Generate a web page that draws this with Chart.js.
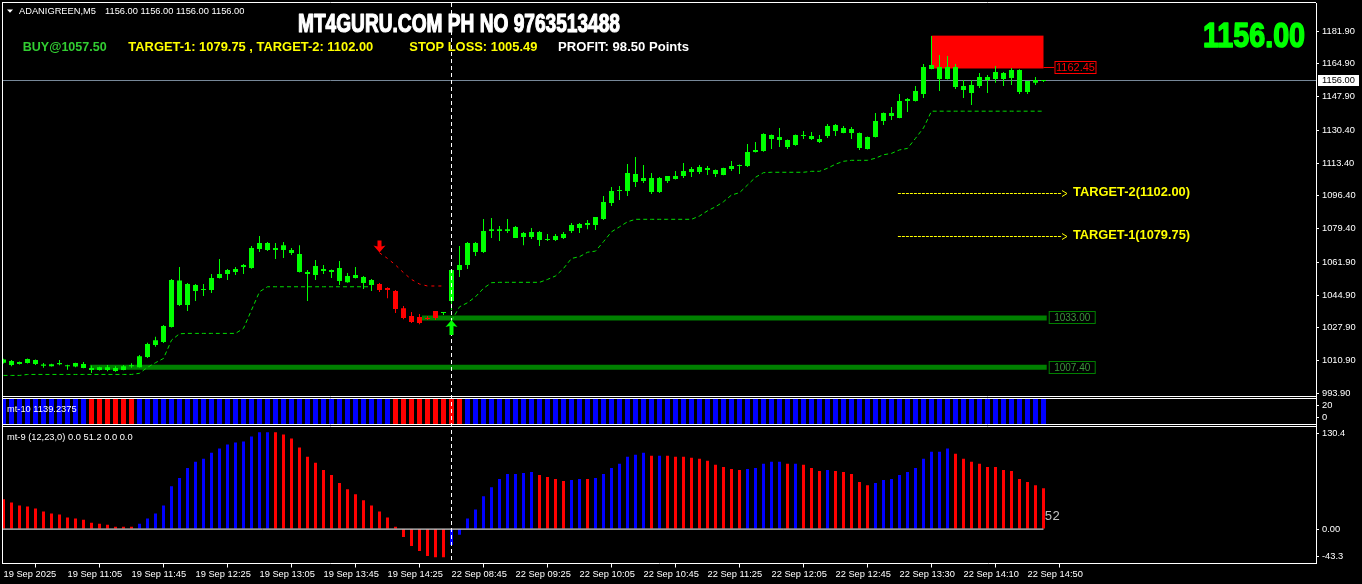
<!DOCTYPE html>
<html><head><meta charset="utf-8">
<script src="https://cdn.jsdelivr.net/npm/chart.js@4.4.1/dist/chart.umd.min.js"></script>
<style>html,body{margin:0;padding:0;background:#000;overflow:hidden}canvas{display:block}</style>
</head><body>
<canvas id="c" width="1362" height="584"></canvas>
<script>
// ---------------- DATA ----------------
const opens = [
1009.8,1010.7,1009.1,1009.6,1011.2,1008.9,1008.0,1009.0,1008.5,1007.8,
1009.1,1007.0,1006.0,1007.5,1005.5,1006.0,1008.0,1007.5,1012.7,1019.0,
1020.5,1028.3,1052.5,1039.7,1047.0,1047.5,1047.5,1053.7,1055.8,1056.8,
1059.4,1058.9,1068.8,1071.9,1068.3,1068.3,1068.3,1066.2,1056.8,1055.3,
1058.4,1057.9,1058.9,1051.6,1053.7,1054.2,1052.7,1050.6,1047.5,1047.0,
1038.1,1034.0,1033.5,1032.5,1033.0,1035.6,1041.8,1057.9,1060.5,1071.9,
1067.2,1078.1,1079.1,1078.1,1080.2,1077.1,1075.0,1077.6,1073.4,1073.4,
1074.5,1078.1,1079.7,1081.2,1081.2,1084.3,1092.6,1098.9,1098.9,1107.7,
1104.1,1105.6,1098.4,1104.1,1105.1,1106.7,1108.7,1108.7,1109.8,1109.8,
1107.2,1110.3,1111.8,1111.8,1119.1,1119.6,1127.9,1125.3,1125.3,1122.7,
1127.4,1127.4,1125.9,1127.4,1130.0,1131.6,1129.0,1129.0,1120.7,1126.9,
1135.2,1139.4,1136.8,1145.6,1145.6,1149.2,1162.2,1163.2,1157.0,1163.2,
1153.4,1149.7,1153.4,1158.0,1157.0,1160.1,1157.5,1161.7,1150.3,1155.0,
1156.0];
const highs = [
1011.8,1011.2,1010.4,1012.0,1011.4,1009.6,1009.3,1011.2,1008.7,1009.8,
1010.1,1008.3,1007.7,1008.6,1008.0,1008.6,1009.5,1013.8,1020.2,1023.3,
1029.3,1053.2,1059.4,1051.1,1050.6,1050.6,1055.8,1063.6,1058.4,1059.4,
1061.0,1070.3,1075.5,1072.4,1071.9,1072.4,1069.3,1070.8,1057.9,1063.1,
1060.5,1058.2,1062.5,1056.3,1059.4,1054.8,1053.2,1051.1,1049.0,1047.5,
1039.2,1036.1,1035.0,1034.0,1036.6,1035.8,1058.4,1070.3,1072.4,1072.4,
1084.3,1084.9,1080.7,1084.3,1080.7,1077.6,1079.7,1078.1,1076.6,1076.6,
1077.6,1082.3,1082.3,1083.8,1085.4,1096.3,1100.9,1101.5,1112.9,1116.5,
1112.4,1108.2,1106.1,1106.7,1109.3,1113.4,1111.3,1112.4,1111.8,1110.0,
1111.0,1114.4,1112.6,1123.3,1124.3,1128.8,1128.2,1131.6,1125.6,1128.2,
1130.0,1129.5,1127.9,1133.6,1133.6,1132.6,1132.1,1129.3,1127.2,1139.4,
1139.6,1142.5,1149.2,1147.1,1153.4,1164.8,1179.3,1169.5,1168.9,1164.8,
1156.5,1156.5,1160.1,1159.1,1163.7,1160.6,1162.7,1162.0,1156.0,1158.0,
1156.5];
const lows = [
1009.4,1008.0,1008.8,1009.4,1008.6,1007.2,1007.8,1008.5,1006.1,1007.4,
1006.9,1004.4,1005.7,1005.4,1005.1,1005.9,1007.2,1007.3,1012.2,1018.1,
1020.0,1028.0,1039.2,1036.6,1041.8,1044.4,1045.9,1053.5,1052.7,1055.3,
1055.8,1058.6,1067.2,1067.8,1063.6,1064.1,1065.7,1056.6,1041.8,1052.7,
1055.8,1053.7,1050.1,1051.3,1053.5,1048.0,1047.0,1046.5,1043.3,1035.6,
1032.4,1030.4,1029.8,1031.9,1031.9,1034.5,1037.1,1054.2,1058.4,1065.1,
1066.7,1074.5,1072.9,1077.1,1074.5,1070.8,1074.0,1070.3,1072.9,1072.9,
1074.0,1077.1,1077.1,1079.1,1078.6,1083.8,1091.1,1094.2,1096.3,1100.9,
1103.0,1097.3,1097.8,1103.0,1104.9,1105.6,1106.1,1107.7,1107.2,1106.1,
1107.0,1109.3,1107.7,1111.3,1118.9,1119.3,1120.7,1121.7,1120.7,1122.4,
1125.9,1125.3,1123.8,1126.4,1127.4,1128.8,1125.9,1120.2,1120.4,1126.6,
1133.1,1135.7,1136.6,1139.9,1145.3,1147.1,1162.0,1150.8,1156.8,1151.8,
1147.1,1143.5,1152.3,1149.7,1155.0,1153.4,1153.9,1149.2,1149.2,1153.9,
1155.4];
const closes = [
1011.5,1008.6,1010.1,1011.7,1009.1,1008.2,1009.0,1009.6,1008.0,1009.6,
1007.0,1006.0,1007.5,1006.0,1007.0,1008.0,1008.4,1013.2,1019.5,1021.5,
1028.8,1052.7,1039.7,1050.6,1050.1,1047.7,1053.7,1055.8,1057.9,1058.4,
1060.5,1069.3,1071.9,1068.3,1069.3,1070.8,1066.7,1056.8,1055.8,1060.0,
1057.4,1056.8,1052.2,1054.8,1055.3,1051.1,1050.1,1047.5,1048.5,1037.6,
1033.0,1030.9,1030.4,1033.0,1036.6,1035.6,1057.9,1060.5,1071.9,1067.2,
1078.1,1079.1,1078.1,1079.1,1074.5,1075.0,1077.6,1073.4,1074.0,1075.5,
1076.6,1081.2,1081.7,1082.3,1085.4,1093.2,1098.9,1098.9,1108.2,1103.5,
1105.6,1098.4,1105.6,1106.7,1106.7,1109.3,1110.3,1111.3,1110.8,1107.7,
1110.8,1111.8,1112.4,1119.1,1120.2,1128.5,1125.9,1126.9,1121.7,1127.9,
1127.4,1125.9,1124.3,1132.6,1133.1,1129.0,1131.0,1121.2,1126.9,1135.2,
1139.4,1137.8,1145.6,1146.6,1150.8,1163.2,1164.3,1157.0,1163.2,1152.8,
1151.3,1153.9,1158.0,1156.5,1160.6,1157.0,1161.7,1150.3,1156.0,1156.5,
1156.0];
// candle colour: G = up-trend (lime), R = down-trend (red)
const candleCode = "GGGGGGGGGG GGGGGGGGGG GGGGGGGGGG GGGGGGGGGG GGGGGGGRRR RRRRRGGGGG GGGGGGGGGG GGGGGGGGGG GGGGGGGGGG GGGGGGGGGG GGGGGGGGGG GGGGGGGGGG GGGGGGGGGG G";
// mt-10 strip signal: B = blue, R = red
const stripCode  = "BBBBBBBBBB BRRRRRRBBB BBBBBBBBBB BBBBBBBBBB BBBBBBBBBR RRRRRRRRBB BBBBBBBBBB BBBBBBBBBB BBBBBBBBBB BBBBBBBBBB BBBBBBBBBB BBBBBBBBBB BBBBBBBBBB B";
// mt-9 histogram
const histValues = [
37.5,33.6,29.8,28.5,26.0,22.1,19.6,18.3,14.5,13.2,
11.9,8.1,6.8,5.5,3.0,3.0,3.0,6.8,13.2,19.6,
29.8,54.0,64.3,77.0,84.7,88.5,96.2,101.3,106.4,109.0,
110.3,116.6,121.8,121.8,121.8,119.2,114.1,102.6,91.1,83.4,
74.5,68.1,57.9,50.2,43.8,36.2,29.8,22.1,14.5,3.0,
-9.8,-21.3,-27.7,-34.0,-35.3,-35.3,-20.0,-7.2,13.2,24.7,
41.3,52.8,63.0,69.4,69.4,70.7,71.9,68.1,65.6,63.0,
60.5,61.7,63.0,63.0,64.3,69.4,77.0,82.2,91.1,93.7,
96.2,92.4,92.4,92.4,91.1,91.1,89.8,88.5,85.9,80.9,
78.3,75.8,74.5,75.8,77.0,82.2,84.7,84.7,82.2,82.2,
80.9,77.0,73.2,74.5,73.2,71.9,69.4,59.2,55.3,57.9,
61.7,63.0,68.1,71.9,77.0,88.5,97.5,97.5,101.3,94.9,
88.5,84.7,82.2,78.3,78.3,74.5,73.2,63.0,59.2,55.3,
51.5];
const histCode = "RRRRRRRRRR RRRRRRRBBB BBBBBBBBBB BBBBRRRRRR RRRRRRRRRR RRRRRRBBBB BBBBBBBRRR RBBRBBBBBB BRBRRRRRRR RRRBBBBBRB RRRBRRRRRB BBBBBBBBBR RRRRRRRRRR R";
// trailing stop lines
const supportTrail = [
1003.2,1003.2,1003.2,1003.7,1003.7,1003.7,1003.7,1003.7,1003.7,1003.7,
1003.7,1003.7,1003.7,1003.7,1003.7,1003.7,1003.7,1004.3,1007.4,1009.8,
1012.0,1021.5,1024.8,1025.0,1025.0,1025.0,1025.0,1025.0,1025.0,1025.0,
1027.6,1037.1,1046.6,1049.2,1049.2,1049.2,1049.2,1049.2,1049.2,1049.2,
1049.2,1049.2,1049.2,1049.2,1049.2,1049.2,1049.2,null,null,null,
null,null,null,null,null,null,1031.5,1038.8,1040.9,1044.0,
1048.4,1051.3,1051.5,1051.5,1051.5,1051.5,1051.5,1051.5,1053.0,1054.8,
1058.7,1063.9,1064.8,1067.1,1067.7,1072.6,1077.7,1080.3,1082.9,1084.2,
1084.2,1084.2,1084.2,1084.2,1084.2,1084.2,1084.2,1085.9,1088.6,1090.7,
1093.3,1096.8,1098.0,1102.0,1106.0,1108.4,1108.6,1108.6,1108.6,1108.6,
1108.6,1109.1,1109.1,1110.7,1112.8,1114.3,1114.8,1114.8,1114.8,1115.9,
1117.7,1118.4,1120.2,1121.0,1126.2,1131.6,1140.3,1140.3,1140.3,1140.3,
1140.3,1140.3,1140.3,1140.3,1140.3,1140.3,1140.3,1140.3,1140.3,1140.3,
1140.3];
const resistTrailStart = 47;
const resistTrail = [1066.8,1063.9,1060.5,1056.5,1053.0,1050.6,1049.6,1049.6,1049.6];
// signals / objects
const sellArrow = {bar: 47, price: 1067.0};
const buyArrow  = {bar: 56, price: 1031.9};
const separatorBar = 56;
const bidPrice = 1156.00;
const zoneBars = [116, 130];
const zonePrices = [1179.5, 1162.45];
const levelPrices = [1033.00, 1007.40];
const levelStartBars = [52.3, 10.8];
const levelEndBar = 130.4;
const targetPrices = [1102.00, 1079.75];
const targetLabels = ['TARGET-2(1102.00)', 'TARGET-1(1079.75)'];
const targetBar = 111.8;
// axes
const priceTicks = [1181.9,1164.9,1147.9,1130.4,1113.4,1096.4,1079.4,1061.9,1044.9,1027.9,1010.9,993.9];
const stripTicks = [20, 0];
const histTickValues = [120.6, 0, -34.7];
const histTickLabels = ['130.4', '0.00', '-43.3'];
const xTickBars = [0,8,16,24,32,40,48,56,64,72,80,88,96,104,112,120,128];
const xTickLabels = ['19 Sep 2025','19 Sep 11:05','19 Sep 11:45','19 Sep 12:25','19 Sep 13:05','19 Sep 13:45','19 Sep 14:25',
  '22 Sep 08:45','22 Sep 09:25','22 Sep 10:05','22 Sep 10:45','22 Sep 11:25','22 Sep 12:05','22 Sep 12:45','22 Sep 13:30','22 Sep 14:10','22 Sep 14:50'];
// texts
const headerSymbol = 'ADANIGREEN,M5';
const headerOHLC = '1156.00 1156.00 1156.00 1156.00';
const titleText = 'MT4GURU.COM PH NO 9763513488';
const bigPriceText = '1156.00';
const infoTexts = ['BUY@1057.50', 'TARGET-1: 1079.75 , TARGET-2: 1102.00', 'STOP LOSS: 1005.49', 'PROFIT: 98.50 Points'];
const stripTitle = 'mt-10 1139.2375';
const histTitle = 'mt-9 (12,23,0) 0.0 51.2 0.0 0.0';
const histLastText = '52';

// ---------------- STYLE ----------------
const LIME = '#00ff00', RED = '#ff0000', BLUE = '#0000ff', WHITE = '#ffffff', YELLOW = '#ffff00';
const FAM = "'Liberation Sans', Arial, sans-serif";
const SMALL = "9.3px " + FAM;
const codes = s => s.replace(/ /g, '').split('');
const candleColors = codes(candleCode).map(c => c === 'R' ? RED : LIME);
const stripColors = codes(stripCode).map(c => c === 'R' ? RED : BLUE);
const histColors = codes(histCode).map(c => c === 'R' ? RED : BLUE);
const STRIP_MIN = -13, STRIP_MAX = 33.7;
const X_MIN = -0.1875, X_MAX = 164.0625;

Chart.defaults.font.family = FAM;
Chart.defaults.font.size = 9.3;

function drawText(ctx, s, x, y, font, color, width, stroke) {
  ctx.save();
  ctx.font = font; ctx.fillStyle = color; ctx.textAlign = 'left'; ctx.textBaseline = 'alphabetic';
  ctx.translate(x, y);
  if (width) { const m = ctx.measureText(s).width; ctx.scale(width / m, 1); }
  ctx.fillText(s, 0, 0);
  if (stroke) { ctx.strokeStyle = color; ctx.lineWidth = stroke; ctx.lineJoin = 'round'; ctx.strokeText(s, 0, 0); }
  ctx.restore();
}
function hline(ctx, x0, x1, y) { ctx.beginPath(); ctx.moveTo(x0, y); ctx.lineTo(x1, y); ctx.stroke(); }
function arrow(ctx, cx, ty, dir, len, color) {
  const d = dir; ctx.save(); ctx.fillStyle = color; ctx.beginPath();
  ctx.moveTo(cx, ty); ctx.lineTo(cx + 6, ty + 7 * d); ctx.lineTo(cx + 2, ty + 6 * d); ctx.lineTo(cx + 2, ty + len * d);
  ctx.lineTo(cx - 2, ty + len * d); ctx.lineTo(cx - 2, ty + 6 * d); ctx.lineTo(cx - 6, ty + 7 * d); ctx.closePath(); ctx.fill(); ctx.restore();
}
function labelBox(ctx, x, yc, w, h, text, border, color, size) {
  ctx.save(); ctx.fillStyle = '#000'; ctx.fillRect(x, yc - h / 2, w, h);
  ctx.strokeStyle = border; ctx.lineWidth = 1; ctx.strokeRect(x + 0.5, Math.round(yc - h / 2) + 0.5, w - 1, h - 1);
  ctx.font = size + 'px ' + FAM; ctx.fillStyle = color; ctx.textAlign = 'center'; ctx.textBaseline = 'middle';
  ctx.fillText(text, x + w / 2, Math.round(yc - h / 2) + h / 2 + 0.5); ctx.restore();
}

const mt4 = {
  id: 'mt4',
  beforeDraw(c) { const ctx = c.ctx; ctx.save(); ctx.fillStyle = '#000'; ctx.fillRect(0, 0, c.width, c.height); ctx.restore(); },
  beforeDatasetsDraw(c) {
    const ctx = c.ctx, xs = c.scales.x, ys = c.scales.yMain, a = c.chartArea;
    ctx.save();
    const x0 = xs.getPixelForValue(zoneBars[0]), x1 = xs.getPixelForValue(zoneBars[1]);
    const y0 = ys.getPixelForValue(zonePrices[0]), y1 = ys.getPixelForValue(zonePrices[1]);
    ctx.fillStyle = RED; ctx.fillRect(x0, y0, x1 - x0, y1 - y0);
    ctx.strokeStyle = '#778899'; ctx.lineWidth = 1;
    hline(ctx, a.left, a.right, Math.floor(ys.getPixelForValue(bidPrice)) + 0.5);
    ctx.restore();
  },
  afterDatasetsDraw(c) {
    const ctx = c.ctx, xs = c.scales.x, ys = c.scales.yMain, a = c.chartArea;
    const sS = c.scales.yStrip, sH = c.scales.yHist;
    ctx.save();
    // pane frames
    ctx.fillStyle = '#000';
    ctx.fillRect(0, ys.bottom - 0.5, a.right, 1); ctx.fillRect(0, sS.bottom - 0.5, a.right, 1);
    ctx.strokeStyle = WHITE; ctx.lineWidth = 1;
    hline(ctx, a.left, a.right, a.top - 0.5);
    hline(ctx, a.left, a.right, ys.bottom - 1); hline(ctx, a.left, a.right, ys.bottom + 1);
    hline(ctx, a.left, a.right, sS.bottom - 1); hline(ctx, a.left, a.right, sS.bottom + 1);
    ctx.beginPath(); ctx.moveTo(a.left + 0.5, a.top - 0.5); ctx.lineTo(a.left + 0.5, a.bottom); ctx.stroke();
    // period separator
    const xsep = xs.getPixelForValue(separatorBar);
    ctx.setLineDash([4, 3]); ctx.beginPath(); ctx.moveTo(xsep, a.top); ctx.lineTo(xsep, a.bottom); ctx.stroke(); ctx.setLineDash([]);
    // arrows
    arrow(ctx, xs.getPixelForValue(sellArrow.bar), ys.getPixelForValue(sellArrow.price), -1, 12, RED);
    arrow(ctx, xs.getPixelForValue(buyArrow.bar), ys.getPixelForValue(buyArrow.price), 1, 15, LIME);
    // zone label
    const zx = xs.getPixelForValue(zoneBars[1]), zy = Math.round(ys.getPixelForValue(zonePrices[1])) - 0.5;
    ctx.strokeStyle = RED; hline(ctx, zx, zx + 11, zy);
    labelBox(ctx, zx + 11, zy, 42, 13, zonePrices[1].toFixed(2), RED, RED, 11);
    // level labels
    levelPrices.forEach(p => {
      const lx = xs.getPixelForValue(levelEndBar) + 2, ly = ys.getPixelForValue(p);
      labelBox(ctx, lx, ly, 47, 13, p.toFixed(2), '#008000', '#3c963c', 10);
    });
    // targets
    targetPrices.forEach((p, k) => {
      const y = ys.getPixelForValue(p), xl = xs.getPixelForValue(targetBar);
      const yl = Math.round(y + 8) + 0.5;
      ctx.strokeStyle = YELLOW; ctx.setLineDash([3, 1]); hline(ctx, xl, 1062, yl); ctx.setLineDash([]);
      ctx.beginPath(); ctx.moveTo(1062, yl - 3); ctx.lineTo(1067, yl); ctx.lineTo(1062, yl + 3); ctx.stroke();
      drawText(ctx, targetLabels[k], 1073, y + 11.5, "bold 12px " + FAM, YELLOW, 117);
    });
    // current price tag on axis
    const by = Math.floor(ys.getPixelForValue(bidPrice));
    ctx.fillStyle = WHITE; ctx.fillRect(a.right + 2, by - 5, 41, 11);
    ctx.fillStyle = '#000'; ctx.font = SMALL; ctx.textBaseline = 'middle'; ctx.textAlign = 'left';
    ctx.fillText(bidPrice.toFixed(2), a.right + 6, by + 0.5);
    // header
    ctx.fillStyle = WHITE; ctx.beginPath(); ctx.moveTo(7, 9.5); ctx.lineTo(13, 9.5); ctx.lineTo(10, 12.8); ctx.closePath(); ctx.fill();
    drawText(ctx, headerSymbol, 19, 13.5, SMALL, WHITE);
    drawText(ctx, headerOHLC, 105, 13.5, SMALL, WHITE);
    drawText(ctx, titleText, 298, 31.7, "bold 25px 'Liberation Sans Narrow', " + FAM, WHITE, 322, 1.2);
    drawText(ctx, bigPriceText, 1203, 46.7, "bold 35px 'Liberation Sans Narrow', " + FAM, LIME, 102, 1.6);
    const infoX = [22.7, 128.3, 409.3, 558], infoW = [84, 245, 128, 131], infoC = ['#32cd32', YELLOW, YELLOW, WHITE];
    infoTexts.forEach((t, k) => drawText(ctx, t, infoX[k], 50.7, "bold 12.5px " + FAM, infoC[k], infoW[k]));
    drawText(ctx, stripTitle, 7, sS.top + 14, SMALL, WHITE);
    drawText(ctx, histTitle, 7, sH.top + 14, SMALL, WHITE);
    drawText(ctx, histLastText, xs.getPixelForValue(130) + 1, sH.getPixelForValue(0) - 9, "13px 'Liberation Mono', monospace", '#c0c0c0');
    ctx.restore();
  }
};

const N = opens.length;
const idx = Array.from({length: N}, (_, i) => i);
const yAxisCommon = {
  type: 'linear', position: 'right', stack: 'panes',
  grid: {drawOnChartArea: false, color: WHITE, tickLength: 3},
  border: {color: WHITE},
  ticks: {color: WHITE, font: {size: 9.3}, padding: 3, autoSkip: false},
  afterFit: s => { s.width = 46; s.paddingTop = 0; s.paddingBottom = 0; }
};

new Chart(document.getElementById('c'), {
  type: 'bar',
  data: {datasets: [
    {type: 'line', data: [{x: X_MIN, y: 0}, {x: 130, y: 0}], yAxisID: 'yHist', borderColor: WHITE, borderWidth: 1, pointRadius: 0, order: 0},
    {data: idx.map(i => ({x: i, y: histValues[i]})), yAxisID: 'yHist', backgroundColor: histColors, barThickness: 3, grouped: false, inflateAmount: 0, order: 1},
    {data: idx.map(i => ({x: i, y: [STRIP_MIN, STRIP_MAX]})), yAxisID: 'yStrip', backgroundColor: stripColors, barThickness: 5, grouped: false, inflateAmount: 0, order: 1},
    {data: idx.map(i => ({x: i, y: [Math.min(opens[i], closes[i]), Math.max(opens[i], closes[i])]})), yAxisID: 'yMain', backgroundColor: candleColors, barThickness: 5, minBarLength: 1, grouped: false, inflateAmount: 0, order: 2},
    {data: idx.map(i => ({x: i, y: [lows[i], highs[i]]})), yAxisID: 'yMain', backgroundColor: candleColors, barThickness: 1, grouped: false, inflateAmount: 0, order: 3},
    {type: 'line', data: idx.map(i => ({x: i, y: supportTrail[i]})), yAxisID: 'yMain', borderColor: '#00dd00', borderWidth: 1, borderDash: [4, 3], pointRadius: 0, spanGaps: false, tension: 0, order: 4},
    {type: 'line', data: resistTrail.map((v, k) => ({x: resistTrailStart + k, y: v})), yAxisID: 'yMain', borderColor: RED, borderWidth: 1, borderDash: [3, 4], pointRadius: 0, tension: 0, order: 4},
    {type: 'line', data: [{x: levelStartBars[0], y: levelPrices[0]}, {x: levelEndBar, y: levelPrices[0]}], yAxisID: 'yMain', borderColor: '#008000', borderWidth: 5, pointRadius: 0, order: 6},
    {type: 'line', data: [{x: levelStartBars[1], y: levelPrices[1]}, {x: levelEndBar, y: levelPrices[1]}], yAxisID: 'yMain', borderColor: '#008000', borderWidth: 5, pointRadius: 0, order: 6}
  ]},
  options: {
    responsive: false, animation: false, devicePixelRatio: 1, events: [],
    layout: {padding: {left: 2, top: 3, right: 0, bottom: 0}},
    plugins: {legend: {display: false}, tooltip: {enabled: false}},
    scales: {
      x: {
        type: 'linear', position: 'bottom', min: X_MIN, max: X_MAX, offset: false,
        grid: {drawOnChartArea: false, color: WHITE, tickLength: 4},
        border: {color: WHITE},
        ticks: {color: WHITE, font: {size: 9.3}, align: 'start', autoSkip: false, maxRotation: 0, minRotation: 0, padding: 1,
          callback: (v, i) => xTickLabels[i]},
        afterBuildTicks: s => { s.ticks = xTickBars.map(v => ({value: v})); },
        afterFit: s => { s.height = 20.5; s.paddingLeft = 0; s.paddingRight = 0; }
      },
      yMain: Object.assign({}, yAxisCommon, {
        stackWeight: 394.5, min: 991.74, max: 1196.43,
        ticks: Object.assign({}, yAxisCommon.ticks, {callback: v => Number(v).toFixed(2)}),
        afterBuildTicks: s => { s.ticks = priceTicks.map(v => ({value: v})); }
      }),
      yStrip: Object.assign({}, yAxisCommon, {
        stackWeight: 28, min: STRIP_MIN, max: STRIP_MAX,
        ticks: Object.assign({}, yAxisCommon.ticks, {callback: v => String(v)}),
        afterBuildTicks: s => { s.ticks = stripTicks.map(v => ({value: v})); }
      }),
      yHist: Object.assign({}, yAxisCommon, {
        stackWeight: 138, min: -43.3, max: 130.4,
        ticks: Object.assign({}, yAxisCommon.ticks, {callback: (v, i) => histTickLabels[i]}),
        afterBuildTicks: s => { s.ticks = histTickValues.map(v => ({value: v})); }
      })
    }
  },
  plugins: [mt4]
});
</script>
</body></html>
